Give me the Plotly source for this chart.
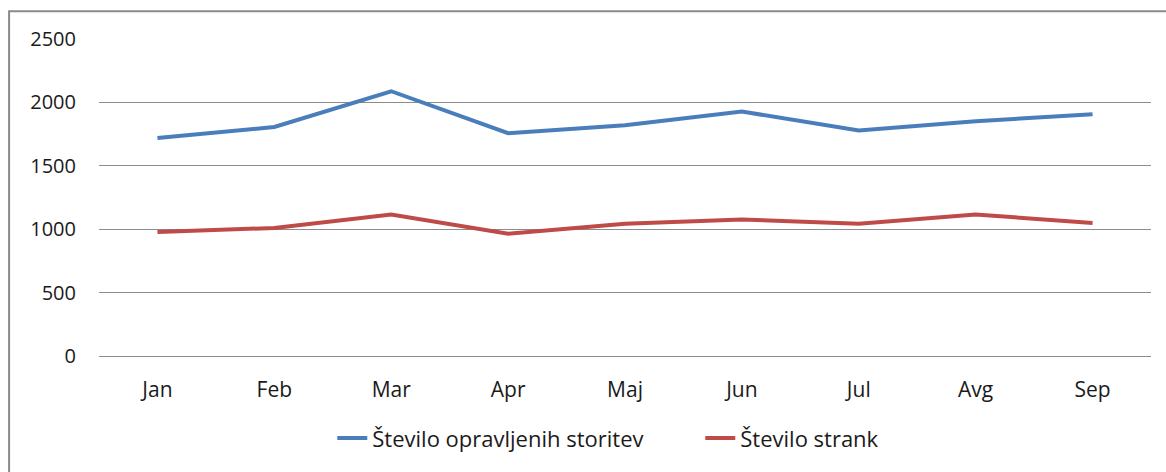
import plotly.graph_objects as go

months = ["Jan", "Feb", "Mar", "Apr", "Maj", "Jun", "Jul", "Avg", "Sep"]
storitve = [1719, 1806, 2088, 1757, 1820, 1928, 1778, 1852, 1906]
stranke = [977, 1010, 1115, 965, 1043, 1077, 1043, 1116, 1049]
name_storitve = "Število opravljenih storitev"
name_stranke = "Število strank"
y_ticks = [0, 500, 1000, 1500, 2000, 2500]

W, H = 1166, 472
L, R, T, B = 98.5, 14.5, 38.7, 116.3
pw, ph = W - L - R, H - T - B

fig = go.Figure()
fig.add_trace(go.Scatter(x=months, y=storitve, name=name_storitve, mode="lines",
                         line=dict(color="#4A7EBB", width=4)))
fig.add_trace(go.Scatter(x=months, y=stranke, name=name_stranke, mode="lines",
                         line=dict(color="#BE4B48", width=4)))

xfont = dict(family="Open Sans, Lato, sans-serif", size=21, color="#1a1a1a")
yfont = dict(family="Open Sans, Lato, sans-serif", size=20, color="#1a1a1a")
lfont = dict(family="Open Sans, Lato, sans-serif", size=22, color="#1a1a1a")

fig.update_layout(
    width=W, height=H,
    margin=dict(l=L, r=R, t=T, b=B, pad=0),
    paper_bgcolor="white", plot_bgcolor="white",
    font=xfont,
    xaxis=dict(type="category", showgrid=False, zeroline=False, showline=False,
               ticks="", ticklabelstandoff=19, range=[-0.5, len(months) - 0.5],
               tickfont=xfont, fixedrange=True),
    yaxis=dict(range=[0, 2500], tickvals=y_ticks, showgrid=True, gridcolor="#8c8c8c",
               gridwidth=1, zeroline=True, zerolinecolor="#8c8c8c", zerolinewidth=1,
               showline=False, ticks="", ticklabelstandoff=22, tickfont=yfont),
    showlegend=True,
    legend=dict(orientation="h", x=(332 - L) / pw, xanchor="left",
                y=(T + ph - 438) / ph, yanchor="middle", font=lfont,
                bgcolor="rgba(0,0,0,0)", entrywidth=323, traceorder="normal"),
    shapes=[dict(type="rect", xref="paper", yref="paper",
                 x0=(8.5 - L) / pw, x1=(W + 20 - L) / pw,
                 y0=(T + ph - (H + 20)) / ph, y1=(T + ph - 11) / ph,
                 line=dict(color="#8a8a8a", width=2), fillcolor="rgba(0,0,0,0)", layer="below")],
)

fig.write_html("out.html", config={"displayModeBar": False},
               post_script="document.body.style.margin='0';document.body.style.padding='0';")
